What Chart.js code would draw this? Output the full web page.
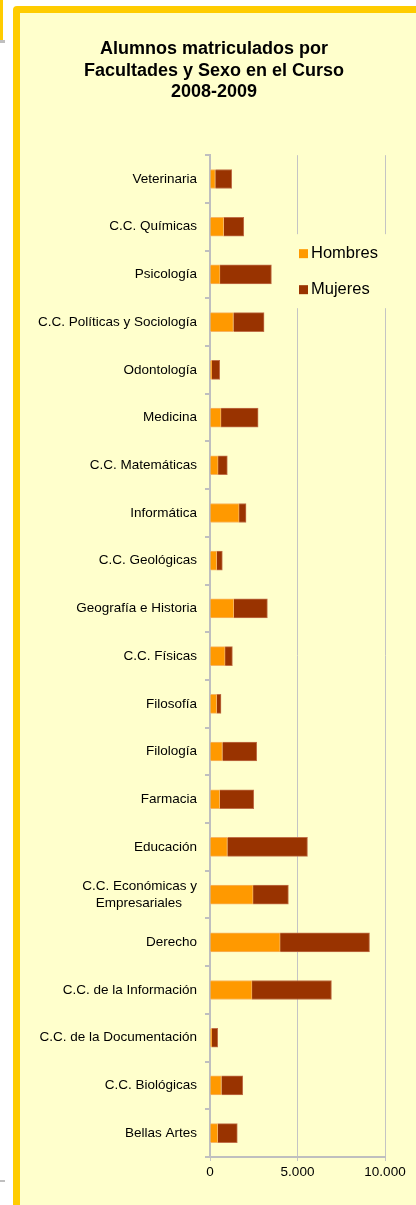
<!DOCTYPE html>
<html>
<head>
<meta charset="utf-8">
<script src="https://cdn.jsdelivr.net/npm/chart.js@4/dist/chart.umd.min.js"></script>
<style>
  html, body { margin: 0; padding: 0; background: #fff; overflow: hidden; }
  body { width: 416px; height: 1205px; position: relative; }
  .frame {
    position: absolute; left: 13px; top: 6px; width: 420px; height: 1230px;
    border: 7px solid #FFCC00; border-radius: 4px; background: #FFFFCC;
  }
  .prev { position: absolute; left: -20px; top: -10px; width: 23px; height: 50px; background: #FFCC00; }
  .prev-line { position: absolute; left: 0; top: 40px; width: 5px; height: 3px; background: #BFBFBF; }
  .mark { position: absolute; left: 0; top: 1180px; width: 5px; height: 2px; background: #BFBFBF; }
  .wrap { position: absolute; left: 0; top: 0; width: 416px; height: 1205px; }
</style>
</head>
<body>
<div class="prev"></div>
<div class="prev-line"></div>
<div class="mark"></div>
<div class="frame"></div>
<div class="wrap"><canvas id="chart-alumnos"></canvas></div>
<script>
const facultades = [
  'Veterinaria', 'C.C. Químicas', 'Psicología', 'C.C. Políticas y Sociología',
  'Odontología', 'Medicina', 'C.C. Matemáticas', 'Informática', 'C.C. Geológicas',
  'Geografía e Historia', 'C.C. Físicas', 'Filosofía', 'Filología', 'Farmacia',
  'Educación', ['C.C. Económicas y', 'Empresariales'], 'Derecho',
  'C.C. de la Información', 'C.C. de la Documentación', 'C.C. Biológicas', 'Bellas Artes'
];
const hombres = [300, 780, 570, 1335, 100, 630, 460, 1660, 380, 1355, 860, 380, 705, 555, 990, 2460, 4005, 2400, 100, 650, 440];
const mujeres = [940, 1150, 2940, 1755, 455, 2120, 530, 400, 325, 1925, 420, 250, 1965, 1945, 4580, 2020, 5110, 4540, 340, 1220, 1120];
const xTicks = [0, 5000, 10000];

const FONT = "'Liberation Sans', Arial, sans-serif";
const LABEL_FONT = '13.5px ' + FONT;
const GRID = '#C4C4C4';

// Excel centres wrapped labels; pad the shorter lines with trailing spaces
const measureCtx = document.createElement('canvas').getContext('2d');
function centreLines(lines) {
  measureCtx.font = LABEL_FONT;
  const widest = Math.max(...lines.map((l) => measureCtx.measureText(l).width));
  const space = measureCtx.measureText(' ').width;
  return lines.map((l) => {
    const n = Math.round((widest - measureCtx.measureText(l).width) / 2 / space);
    return l + ' '.repeat(n);
  });
}

// long category names run past the axis box; widen its clip area after layout
const wideLabels = {
  id: 'wideLabels',
  afterLayout(chart) { chart.scales.y.left = 0; }
};

// legend sits on top of the plot, like the Excel layout
const floatingLegend = {
  id: 'floatingLegend',
  afterDraw(chart) {
    const { ctx, chartArea } = chart;
    const x0 = chartArea.left, y0 = chartArea.top;
    ctx.save();
    ctx.fillStyle = '#FFFFCC';
    ctx.fillRect(x0 + 82, y0 + 79, 100, 74);
    ctx.font = '16.5px ' + FONT;
    ctx.textBaseline = 'middle';
    chart.data.datasets.forEach((ds, i) => {
      const cy = y0 + 98.5 + i * 36;
      ctx.fillStyle = ds.backgroundColor;
      ctx.fillRect(x0 + 89, cy - 4.5, 9, 9);
      ctx.fillStyle = '#000';
      ctx.fillText(ds.label, x0 + 101, cy);
    });
    ctx.restore();
  }
};

new Chart(document.getElementById('chart-alumnos'), {
  type: 'bar',
  data: {
    labels: facultades,
    datasets: [
      { label: 'Hombres', data: hombres, backgroundColor: '#FF9900', borderColor: '#F7B560', borderWidth: 1, barThickness: 19 },
      { label: 'Mujeres', data: mujeres, backgroundColor: '#993300', borderColor: '#C07048', borderWidth: 1, barThickness: 19 }
    ]
  },
  options: {
    indexAxis: 'y',
    responsive: true,
    maintainAspectRatio: false,
    animation: false,
    layout: { padding: { left: 43, right: 31, top: 0, bottom: 25 } },
    plugins: {
      legend: { display: false },
      tooltip: { enabled: false },
      title: {
        display: true,
        text: ['Alumnos matriculados por', 'Facultades y Sexo en el Curso', '2008-2009'],
        color: '#000',
        font: { family: FONT, size: 18, weight: 'bold', lineHeight: 1.17 },
        padding: { top: 39, bottom: 53 }
      }
    },
    scales: {
      x: {
        stacked: true,
        min: 0, max: 10000,
        afterBuildTicks: (scale) => { scale.ticks = xTicks.map((v) => ({ value: v })); },
        afterFit: (scale) => { scale.height = 23; },
        ticks: {
          color: '#000',
          padding: 3,
          font: { family: FONT, size: 13.5 },
          callback: (v) => v.toLocaleString('es-ES', { useGrouping: 'always' }).replace(/\s/g, '.')
        },
        grid: { color: GRID, lineWidth: 1, tickLength: 4, tickColor: GRID },
        border: { color: '#BFBFBF', width: 2 }
      },
      y: {
        stacked: true,
        afterFit: (scale) => { scale.width = 167; },
        ticks: {
          color: '#000',
          padding: 8,
          font: { family: FONT, size: 13.5, lineHeight: 1.25 },
          callback: (v, i) => {
            const label = facultades[i];
            return Array.isArray(label) ? centreLines(label) : label;
          }
        },
        grid: { offset: true, drawOnChartArea: false, tickLength: 5, tickColor: '#BFBFBF', lineWidth: 2 },
        border: { color: '#BFBFBF', width: 2 }
      }
    }
  },
  plugins: [wideLabels, floatingLegend]
});
</script>
</body>
</html>
